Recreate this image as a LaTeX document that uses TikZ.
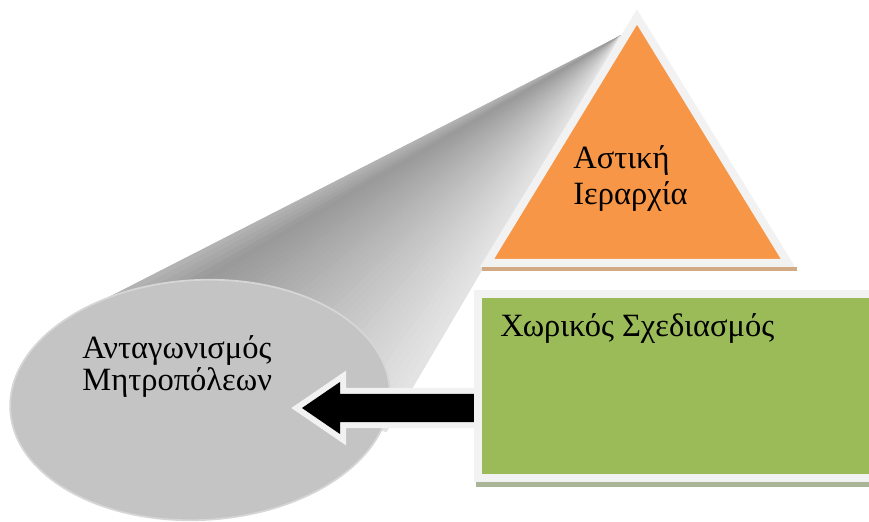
\documentclass[tikz,border=0pt]{standalone}
\usepackage{fontspec}
\setmainfont{Liberation Serif}
\usepackage{xcolor}
\usetikzlibrary{calc}
\definecolor{hierorange}{HTML}{F79646}
\definecolor{plangreen}{HTML}{9BBB59}
\definecolor{rimwhite}{HTML}{F2F2F2}
\definecolor{ellgray}{HTML}{C4C4C4}
\definecolor{ellrim}{HTML}{D6D6D6}
\definecolor{trishadow}{HTML}{D2A985}
\definecolor{boxshadow}{HTML}{AAB496}
\definecolor{arrshadow}{HTML}{A6A6A6}
\tikzset{
  greektext/.style={font=\fontsize{18.5}{18}\selectfont, inner sep=0pt, align=left},
  rimmed/.style={draw=rimwhite, line width=0.16cm, line join=miter}
}

\begin{document}
\begin{tikzpicture}
    \useasboundingbox (0,0) rectangle (17.38,10.42);
    \clip (0,0) rectangle (17.38,10.42);
    % cone running from the ellipse up behind the triangle
    \coordinate (apex) at (12.4,9.7);
    \coordinate (up) at (1.6,4.18);
    \coordinate (lo) at (7.72,1.78);
    \foreach \t in {0,0.025,...,0.975} {
      \pgfmathsetmacro\tn{\t+0.026}
      \pgfmathsetmacro\k{\t<0.12 ? 30+10*\t/0.12 : 40-30*(\t-0.12)/0.88}
      \filldraw[black!\k, line width=0.3pt] (apex) -- ($(up)!\t!(lo)$)
        -- ($(up)!\tn!(lo)$) -- cycle;
    }
    \filldraw[fill=ellgray, draw=ellrim, line width=1pt, rotate around={3:(4.0,2.42)}]
      (4.0,2.42) ellipse (3.8 and 2.4);
    \node[greektext, anchor=base west] (metro) at (1.64,2.62)
      {Ανταγωνισμός\\Μητροπόλεων};
    % block arrow
    \coordinate (arrtip) at (6.04,2.26);
    \fill[arrshadow] ($(arrtip)+(0.06,-0.1)$) -- ++(0.76,0.52) -- ++(0,-0.24)
      -- ++(2.76,0) -- ++(0,-0.56) -- ++(-2.76,0) -- ++(0,-0.24) -- cycle;
    \draw[rimwhite, line width=0.24cm, line join=miter] (arrtip) -- ++(0.76,0.52) -- ++(0,-0.24)
      -- ++(2.76,0) -- ++(0,-0.56) -- ++(-2.76,0) -- ++(0,-0.24) -- cycle;
    \fill[black] (arrtip) -- ++(0.76,0.52) -- ++(0,-0.24)
      -- ++(2.76,0) -- ++(0,-0.56) -- ++(-2.76,0) -- ++(0,-0.24) -- cycle;
    % triangle
    \fill[trishadow] (9.64,5.0) rectangle (15.94,5.08);
    \filldraw[fill=hierorange, rimmed] (9.74,5.16) -- (15.76,5.16) -- (12.74,10.08) -- cycle;
    \node[greektext, anchor=base west] (hier) at (11.46,6.32)
      {Αστική\\[3pt]Ιεραρχία};
    % green box
    \fill[boxshadow] (9.52,0.68) rectangle (17.5,0.79);
    \filldraw[fill=plangreen, rimmed] (9.56,4.54) rectangle (17.7,0.87);
    \node[greektext, anchor=base west] (plan) at (10.0,3.68) {Χωρικός Σχεδιασμός};
\end{tikzpicture}
\end{document}
